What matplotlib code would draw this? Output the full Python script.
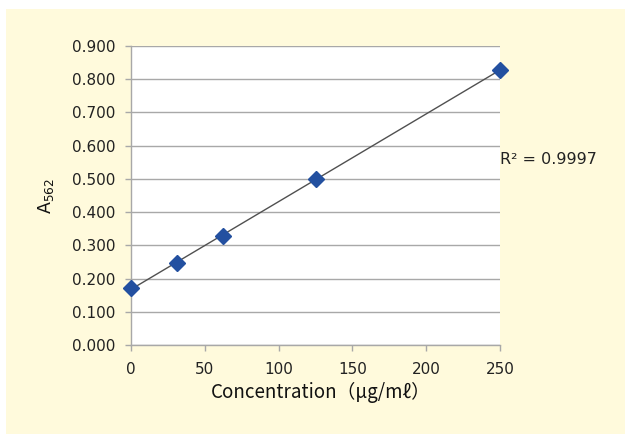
import matplotlib
matplotlib.use("Agg")
import matplotlib.pyplot as plt
from matplotlib.patches import Rectangle
import numpy as np

plt.rcParams["font.family"] = ["DejaVu Sans"]

# Standard curve data
concentration = [0, 31.25, 62.5, 125, 250]
absorbance = [0.173, 0.246, 0.328, 0.500, 0.828]
x_ticks = [0, 50, 100, 150, 200, 250]
y_ticks = [0.0, 0.1, 0.2, 0.3, 0.4, 0.5, 0.6, 0.7, 0.8, 0.9]
r2_label = "R² = 0.9997"

W, H = 625, 434
fig = plt.figure(figsize=(W / 100, H / 100), dpi=100)
fig.patch.set_facecolor("white")

# Pale yellow panel behind the chart
fig.patches.append(Rectangle((6 / W, 0), 1 - 6 / W, 1 - 9 / H, transform=fig.transFigure,
                             facecolor="#FFFADC", edgecolor="none", zorder=-10))

ax = fig.add_axes([131 / W, 1 - 345 / H, (500 - 131) / W, (345 - 46) / H])
ax.set_zorder(1)
ax.set_facecolor("white")

grid_c = "#A8A8A8"
for s in ["top", "right"]:
    ax.spines[s].set_visible(False)
for s in ["left", "bottom"]:
    ax.spines[s].set_color(grid_c)
    ax.spines[s].set_linewidth(1.0)

ax.set_xlim(0, 250)
ax.set_ylim(0, 0.9)
ax.set_xticks(x_ticks)
ax.set_yticks(y_ticks)
ax.set_yticklabels([f"{v:.3f}" for v in y_ticks])
ax.yaxis.grid(True, color=grid_c, linewidth=1.0)
ax.set_axisbelow(True)
ax.tick_params(axis="both", colors=grid_c, labelcolor="#222222", labelsize=11,
               length=4, width=1.0, direction="out")
ax.tick_params(axis="y", pad=7)
ax.tick_params(axis="x", pad=8)

# Linear trendline through the points
slope, intercept = np.polyfit(concentration, absorbance, 1)
xs = np.array([0, 250])
ax.plot(xs, slope * xs + intercept, color="#505050", linewidth=1.0, zorder=2)

ax.plot(concentration, absorbance, linestyle="none", marker="D", markersize=8.5,
        color="#2350A0", clip_on=False, zorder=3)

ax.text(1.0, (345 - 160) / (345 - 46), r2_label, transform=ax.transAxes, fontsize=11.5,
        color="#222222", ha="left", va="center")

ax.set_xlabel("Concentration（μg/mℓ）", fontsize=13.5, color="#111111",
              family=["Noto Sans CJK JP", "DejaVu Sans"], labelpad=4)
ax.xaxis.set_label_coords(0.515, -0.125)
ax.set_ylabel(r"A$_{562}$", fontsize=12.5, color="#111111", labelpad=12)

fig.savefig("out.png", dpi=100, facecolor=fig.get_facecolor())
